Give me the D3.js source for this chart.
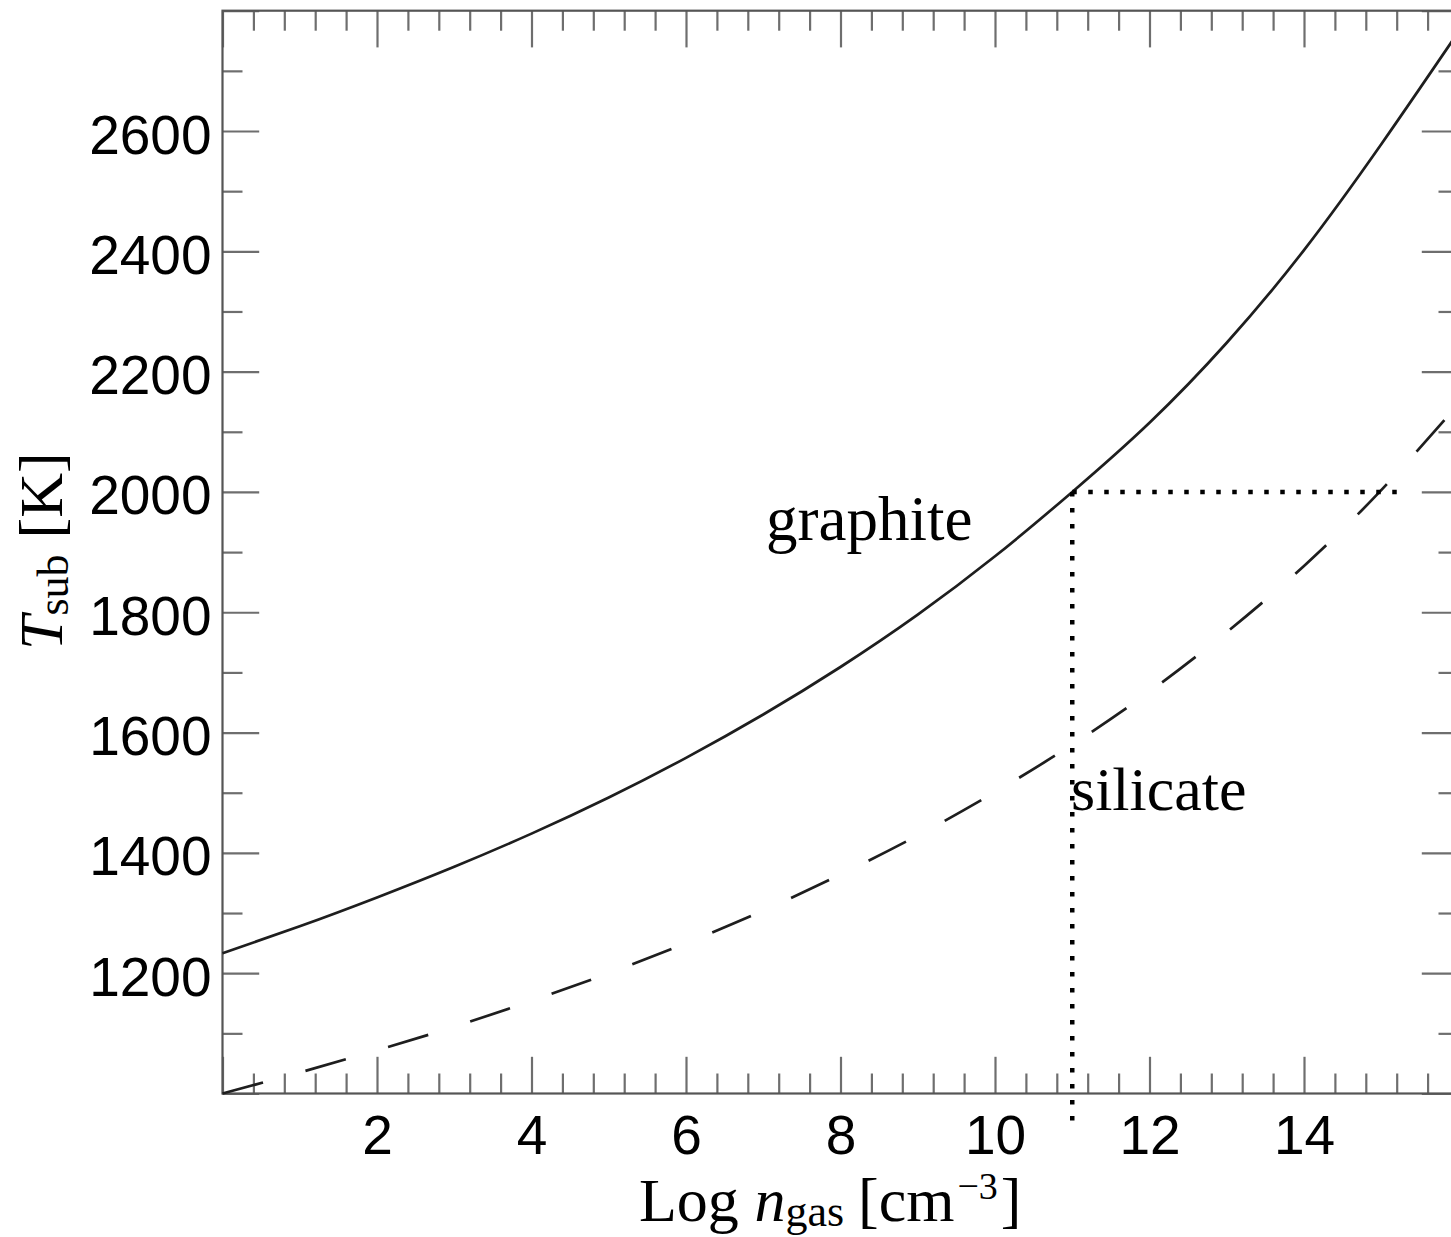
<!DOCTYPE html>
<html>
<head>
<meta charset="utf-8">
<script src="https://cdn.jsdelivr.net/npm/d3@7"></script>
<style>
  body { margin: 0; background: #fff; }
  svg { display: block; }
</style>
</head>
<body>
<div id="chart"></div>
<script>
// Log n_gas values and sublimation temperatures
const logN = [0, 1, 2, 3, 4, 5, 6, 7, 8, 9, 10, 11, 12, 13, 14, 15, 16];
const graphiteT = [1233, 1278, 1326, 1377, 1432, 1492, 1558, 1630, 1709, 1796, 1893, 2000, 2115, 2248, 2402, 2578, 2765];
const silicateT = [1000, 1035, 1072, 1111, 1154, 1200, 1250, 1304, 1364, 1429, 1501, 1580, 1668, 1767, 1877, 2003, 2146];

// dotted guide: graphite reaches 2000 K at log n = 11
const guideH = [[11, 2000], [15.25, 2000]];
const guideV = [[11, 2000], [11, 940]];

const xMajor = [0, 2, 4, 6, 8, 10, 12, 14, 16];
const xLabels = [2, 4, 6, 8, 10, 12, 14];
const yMajor = [1000, 1200, 1400, 1600, 1800, 2000, 2200, 2400, 2600, 2800];
const yLabels = [1200, 1400, 1600, 1800, 2000, 2200, 2400, 2600];

const width = 1451, height = 1237;
const plotLeft = 222.5, plotRight = 1458.5, plotTop = 10.7, plotBottom = 1093.5;

const x = d3.scaleLinear().domain([0, 16]).range([plotLeft, plotRight]);
const y = d3.scaleLinear().domain([1000, 2800]).range([plotBottom, plotTop]);

const xMinor = d3.range(0, 16.001, 0.4).map(v => +v.toFixed(2)).filter(v => !xMajor.includes(v));
const yMinor = d3.range(1000, 2801, 100).filter(v => !yMajor.includes(v));

const svg = d3.select("#chart").append("svg")
    .attr("width", width)
    .attr("height", height);

const numFont = "'Liberation Sans', Arial, Helvetica, sans-serif";
const serif = "'Liberation Serif', 'Times New Roman', serif";

// axes with inward ticks
function styleAxis(g) {
    g.select(".domain").remove();
    g.selectAll(".tick line").attr("stroke", "#6e6e6e").attr("stroke-width", 2.2);
    g.selectAll(".tick text")
        .attr("fill", "#000")
        .attr("font-family", numFont)
        .attr("font-size", 55);
}

const major = 36.7, minor = 20;

svg.append("g").attr("transform", `translate(0,${plotBottom})`)
    .call(d3.axisBottom(x).tickValues(xMajor).tickSize(-major).tickPadding(21)
        .tickFormat(d => xLabels.includes(d) ? d : ""))
    .call(styleAxis);
svg.append("g").attr("transform", `translate(0,${plotBottom})`)
    .call(d3.axisBottom(x).tickValues(xMinor).tickSize(-minor).tickFormat(""))
    .call(styleAxis);
svg.append("g").attr("transform", `translate(0,${plotTop})`)
    .call(d3.axisTop(x).tickValues(xMajor).tickSize(-major).tickFormat(""))
    .call(styleAxis);
svg.append("g").attr("transform", `translate(0,${plotTop})`)
    .call(d3.axisTop(x).tickValues(xMinor).tickSize(-minor).tickFormat(""))
    .call(styleAxis);

svg.append("g").attr("transform", `translate(${plotLeft},0)`)
    .call(d3.axisLeft(y).tickValues(yMajor).tickSize(-major).tickPadding(11)
        .tickFormat(d => yLabels.includes(d) ? d : ""))
    .call(styleAxis)
    .selectAll(".tick text").attr("dy", "0.4em");
svg.append("g").attr("transform", `translate(${plotLeft},0)`)
    .call(d3.axisLeft(y).tickValues(yMinor).tickSize(-minor).tickFormat(""))
    .call(styleAxis);
svg.append("g").attr("transform", `translate(${plotRight},0)`)
    .call(d3.axisRight(y).tickValues(yMajor).tickSize(-major).tickFormat(""))
    .call(styleAxis);
svg.append("g").attr("transform", `translate(${plotRight},0)`)
    .call(d3.axisRight(y).tickValues(yMinor).tickSize(-minor).tickFormat(""))
    .call(styleAxis);

// frame
svg.append("rect")
    .attr("x", plotLeft).attr("y", plotTop)
    .attr("width", plotRight - plotLeft).attr("height", plotBottom - plotTop)
    .attr("fill", "none")
    .attr("stroke", "#555")
    .attr("stroke-width", 2.2);

const line = d3.line()
    .x(d => x(d[0]))
    .y(d => y(d[1]))
    .curve(d3.curveNatural);

svg.append("path")
    .datum(logN.map((v, i) => [v, graphiteT[i]]))
    .attr("d", line)
    .attr("fill", "none")
    .attr("stroke", "#1e1e1e")
    .attr("stroke-width", 2.7);

svg.append("path")
    .datum(logN.map((v, i) => [v, silicateT[i]]))
    .attr("d", line)
    .attr("fill", "none")
    .attr("stroke", "#1e1e1e")
    .attr("stroke-width", 2.7)
    .attr("stroke-dasharray", "42 44");

const straight = d3.line().x(d => x(d[0])).y(d => y(d[1]));
[guideH, guideV].forEach(seg => {
    svg.append("path")
        .datum(seg)
        .attr("d", straight)
        .attr("fill", "none")
        .attr("stroke", "#000")
        .attr("stroke-width", 4.5)
        .attr("stroke-dasharray", "4.5 11.5");
});

// curve labels
svg.append("text")
    .attr("x", 766).attr("y", 540)
    .attr("font-family", serif).attr("font-size", 63)
    .text("graphite");
svg.append("text")
    .attr("x", 1071).attr("y", 810)
    .attr("font-family", serif).attr("font-size", 62)
    .text("silicate");

// x axis title
const xt = svg.append("text")
    .attr("x", 639).attr("y", 1221)
    .attr("font-family", serif).attr("font-size", 62);
xt.append("tspan").text("Log ");
xt.append("tspan").attr("font-style", "italic").text("n");
xt.append("tspan").attr("font-size", 44).attr("dy", 5).text("gas");
xt.append("tspan").attr("dy", -5).attr("dx", 14).text("[cm");
xt.append("tspan").attr("font-size", 38).attr("dy", -22).attr("dx", 3).text("\u22123");
xt.append("tspan").attr("dy", 22).attr("dx", 3).text("]");

// y axis title
const yt = svg.append("text")
    .attr("transform", "translate(62,650) rotate(-90)")
    .attr("font-family", serif).attr("font-size", 62);
yt.append("tspan").attr("font-style", "italic").text("T");
yt.append("tspan").attr("font-size", 44).attr("dy", 6).text("sub");
yt.append("tspan").attr("dy", -6).attr("dx", 16).text("[K]");
</script>
</body>
</html>
